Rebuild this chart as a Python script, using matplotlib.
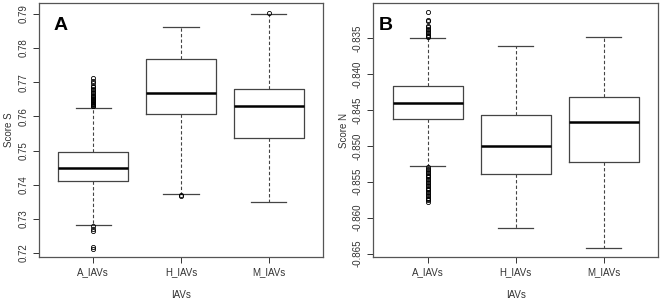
import matplotlib
matplotlib.use('Agg')
import matplotlib.pyplot as plt

plt.rcParams['font.family'] = ['Liberation Sans', 'DejaVu Sans']

groups = ['A_IAVs', 'H_IAVs', 'M_IAVs']

# panel A: Score S  (whislo, q1, med, q3, whishi)
s_whislo = [0.7283, 0.7374, 0.7349]
s_q1 = [0.7411, 0.7608, 0.7538]
s_med = [0.7449, 0.7669, 0.7630]
s_q3 = [0.7496, 0.7767, 0.7680]
s_whishi = [0.7626, 0.7861, 0.7899]
s_fliers = [
    [0.7629, 0.7631, 0.7633, 0.7635, 0.7637, 0.7640, 0.7642, 0.7645, 0.7647,
     0.7650, 0.7653, 0.7656, 0.7660, 0.7664, 0.7668, 0.7672, 0.7676, 0.7680,
     0.7685, 0.7690, 0.7697, 0.7704, 0.7711,
     0.7278, 0.7270, 0.7265, 0.7218, 0.7213],
    [0.7371, 0.7368],
    [0.7904],
]

# panel B: Score N
n_whislo = [-0.8528, -0.8615, -0.8642]
n_q1 = [-0.8462, -0.8539, -0.8523]
n_med = [-0.8440, -0.8500, -0.8467]
n_q3 = [-0.8417, -0.8457, -0.8432]
n_whishi = [-0.8350, -0.8361, -0.8349]
n_fliers = [
    [-0.8314, -0.8324, -0.8326, -0.8333, -0.8335, -0.8337, -0.8339, -0.8341,
     -0.8343, -0.8345, -0.8347, -0.8349,
     -0.8530, -0.8532, -0.8534, -0.8536, -0.8538, -0.8540, -0.8542, -0.8544,
     -0.8546, -0.8548, -0.8550, -0.8552, -0.8554, -0.8556, -0.8558, -0.8560,
     -0.8562, -0.8564, -0.8566, -0.8568, -0.8570, -0.8572, -0.8574, -0.8576,
     -0.8578],
    [],
    [],
]

s_ticks = [0.72, 0.73, 0.74, 0.75, 0.76, 0.77, 0.78, 0.79]
n_ticks = [-0.865, -0.860, -0.855, -0.850, -0.845, -0.840, -0.835]


def make_stats(lo, q1, med, q3, hi, fl):
    return [dict(whislo=lo[i], q1=q1[i], med=med[i], q3=q3[i], whishi=hi[i],
                 fliers=fl[i], label=groups[i]) for i in range(len(groups))]


def draw(ax, stats, ticks, fmt, ylab, letter, lx, ylim):
    edge = '#444444'
    ax.bxp(stats, positions=[1, 2, 3], widths=0.8, capwidths=0.4,
           boxprops=dict(color=edge, lw=0.9),
           medianprops=dict(color='black', lw=1.8),
           whiskerprops=dict(color=edge, lw=0.8, ls=(0, (3, 2))),
           capprops=dict(color=edge, lw=0.9),
           flierprops=dict(marker='o', markersize=3, markerfacecolor='none',
                           markeredgecolor='black', markeredgewidth=0.6))
    ax.set_xlim(0.38, 3.62)
    ax.set_ylim(*ylim)
    ax.set_yticks(ticks)
    ax.set_yticklabels([fmt % t for t in ticks], rotation=90, va='center')
    ax.set_xticks([1, 2, 3])
    ax.set_xticklabels(groups)
    for sp in ax.spines.values():
        sp.set_color('#555555')
        sp.set_linewidth(0.9)
    ax.tick_params(labelsize=7, colors='#333333', length=4, width=0.7)
    ax.set_xlabel('IAVs', fontsize=7, color='#333333', labelpad=9)
    ax.set_ylabel(ylab, fontsize=7, color='#333333', labelpad=3)
    ax.text(lx, 0.945, letter, transform=ax.transAxes, fontsize=14,
            fontweight='bold', va='top', ha='left')


fig = plt.figure(figsize=(6.61, 2.99), dpi=100)
axA = fig.add_axes([0.059, 0.14, 0.4297, 0.85])
axB = fig.add_axes([0.5648, 0.14, 0.4311, 0.85])

draw(axA, make_stats(s_whislo, s_q1, s_med, s_q3, s_whishi, s_fliers),
     s_ticks, '%.2f', 'Score S', 'A', 0.05, (0.7188, 0.7932))
draw(axB, make_stats(n_whislo, n_q1, n_med, n_q3, n_whishi, n_fliers),
     n_ticks, '%.3f', 'Score N', 'B', 0.018, (-0.8655, -0.8301))

fig.savefig('out.png', dpi=100)
